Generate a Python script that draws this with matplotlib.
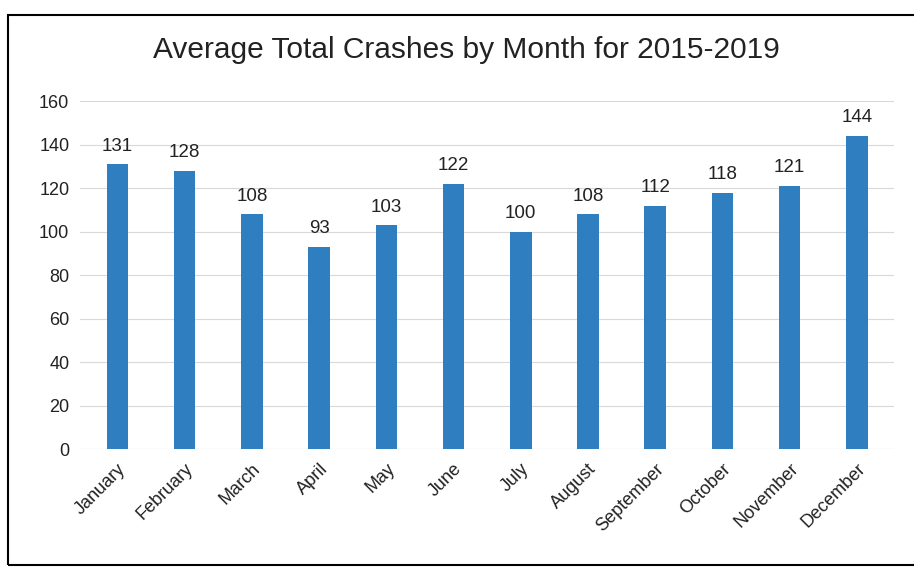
import matplotlib.pyplot as plt
from matplotlib.patches import Rectangle
import numpy as np

months = ["January", "February", "March", "April", "May", "June",
          "July", "August", "September", "October", "November", "December"]
crashes = [131, 128, 108, 93, 103, 122, 100, 108, 112, 118, 121, 144]
yticks = [0, 20, 40, 60, 80, 100, 120, 140, 160]

plt.rcParams['font.family'] = ['Liberation Sans', 'DejaVu Sans']

fig = plt.figure(figsize=(9.14, 5.70), dpi=100)
ax = fig.add_axes([0.088, 0.212, 0.89, 0.61])

x = np.arange(len(months))
bars = ax.bar(x, crashes, width=0.32, color="#2E7EC0", zorder=3)

for xi, v in zip(x, crashes):
    ax.text(xi, v + 4.5, str(v), ha="center", va="bottom", fontsize=13.5, color="#222222")

ax.set_ylim(0, 160)
ax.set_xlim(-0.55, len(months) - 0.45)
ax.set_yticks(yticks)
ax.set_yticklabels([str(t) for t in yticks], fontsize=13, color="#222222")
ax.set_xticks(x)
ax.set_xticklabels(months, rotation=45, ha="right", rotation_mode="anchor",
                   fontsize=13, color="#222222")
ax.tick_params(length=0, pad=8)
ax.grid(axis="y", color="#d9d9d9", linewidth=0.8, zorder=0)
for s in ax.spines.values():
    s.set_visible(False)
ax.axhline(0, color="#d9d9d9", linewidth=0.8, zorder=1)

fig.text(0.51, 0.913, "Average Total Crashes by Month for 2015-2019",
         ha="center", va="center", fontsize=21.5, color="#222222")

# chart border
fig.patches.append(Rectangle((0.009, 0.008), 1.2, 0.965, transform=fig.transFigure,
                             fill=False, edgecolor="black", linewidth=1.5))

fig.savefig("out.png", dpi=100)
